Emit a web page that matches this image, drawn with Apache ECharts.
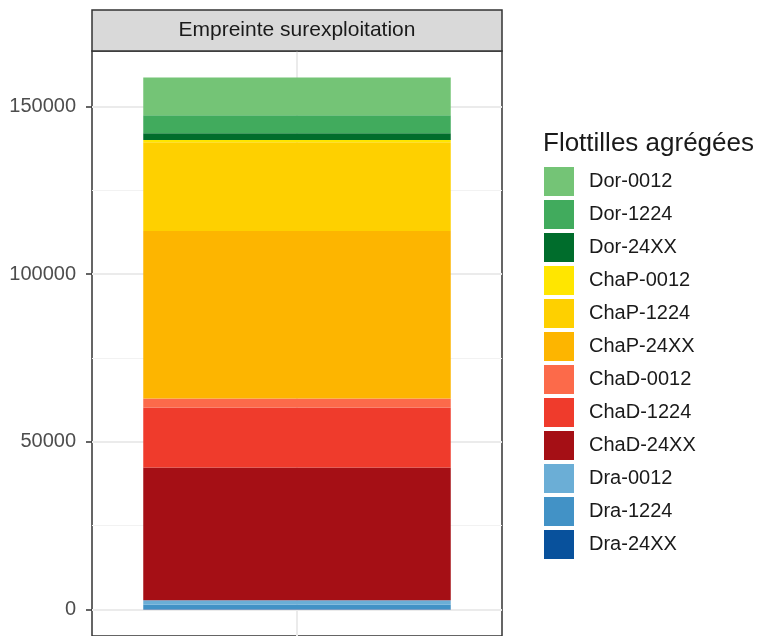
<!DOCTYPE html>
<html>
<head>
<meta charset="utf-8">
<script src="https://cdn.jsdelivr.net/npm/echarts@6/dist/echarts.min.js"></script>
<style>
html,body{margin:0;padding:0;background:#fff;}
#chart{width:762px;height:636px;}
</style>
</head>
<body>
<div id="chart"></div>
<script>
const panelTitle = 'Empreinte surexploitation';
const legendTitle = 'Flottilles agrégées';
const categories = ['Empreinte surexploitation'];
const fleets = ['Dor-0012','Dor-1224','Dor-24XX','ChaP-0012','ChaP-1224','ChaP-24XX','ChaD-0012','ChaD-1224','ChaD-24XX','Dra-0012','Dra-1224','Dra-24XX'];
const values = [11200, 5400, 2000, 700, 26500, 49900, 2700, 17900, 39600, 1350, 1250, 150];
const colors = ['#74c476','#41ab5d','#006d2c','#ffe600','#fed000','#fdb500','#fc6a4a','#ef3b2c','#a50f15','#6baed6','#4292c6','#08519c'];
const yTicks = [0, 50000, 100000, 150000];
const yMinorTicks = [25000, 75000, 125000];

const FONT = "'Liberation Sans', Arial, sans-serif";
const total = values.reduce((a, b) => a + b, 0);
const pad = total * 0.05;

const chart = echarts.init(document.getElementById('chart'), null, {renderer: 'canvas'});

const gridLeft = 92, gridRight = 260, gridTop = 51;

const barSeries = [];
for (let i = fleets.length - 1; i >= 0; i--) {
  barSeries.push({
    name: fleets[i],
    type: 'bar',
    stack: 'total',
    barWidth: '75%',
    z: 10,
    data: [values[i]],
    itemStyle: {color: colors[i], borderWidth: 0},
    emphasis: {disabled: true}
  });
}

const gridLines = [];
yTicks.forEach(v => gridLines.push({yAxis: v, lineStyle: {color: '#ebebeb', width: 2, type: 'solid'}}));
yMinorTicks.forEach(v => gridLines.push({yAxis: v, lineStyle: {color: '#f2f2f2', width: 1, type: 'solid'}}));
gridLines.push({xAxis: categories[0], lineStyle: {color: '#ebebeb', width: 2, type: 'solid'}});

const option = {
  animation: false,
  backgroundColor: '#ffffff',
  textStyle: {fontFamily: FONT},
  grid: {
    left: gridLeft, right: gridRight, top: gridTop, bottom: -2,
    show: true, borderColor: '#333333', borderWidth: 1.5, backgroundColor: '#ffffff',
    containLabel: false
  },
  xAxis: {
    type: 'category',
    data: categories,
    axisLine: {show: false},
    axisTick: {show: false},
    axisLabel: {show: false},
    splitLine: {show: false}
  },
  yAxis: {
    type: 'value',
    min: -pad,
    max: total + pad,
    splitNumber: 4,
    axisLine: {show: false},
    axisTick: {show: true, length: 6, lineStyle: {color: '#333333', width: 1.5}, customValues: yTicks},
    axisLabel: {
      show: true, margin: 16, fontSize: 20, color: '#4d4d4d', fontFamily: FONT,
      customValues: yTicks,
      formatter: v => String(v)
    },
    splitLine: {show: false},
    minorSplitLine: {show: false}
  },
  legend: {
    orient: 'vertical',
    left: 539,
    top: 162,
    icon: 'rect',
    itemWidth: 30,
    itemHeight: 29,
    itemGap: 4,
    selectedMode: false,
    data: fleets,
    textStyle: {fontSize: 20, color: '#1a1a1a', fontFamily: FONT, padding: [0, 0, 0, 10]}
  },
  graphic: [
    {
      type: 'rect',
      shape: {x: gridLeft, y: 10, width: 762 - gridLeft - gridRight, height: gridTop - 10},
      style: {fill: '#d9d9d9', stroke: '#333333', lineWidth: 1.5},
      z: 100
    },
    {
      type: 'text',
      x: gridLeft + (762 - gridLeft - gridRight) / 2,
      y: 30,
      style: {text: panelTitle, font: '21px ' + FONT, fill: '#1a1a1a', align: 'center', verticalAlign: 'middle'},
      z: 101
    },
    {
      type: 'text',
      x: 543,
      y: 144,
      style: {text: legendTitle, font: '26px ' + FONT, fill: '#1a1a1a', align: 'left', verticalAlign: 'middle'},
      z: 101
    }
  ],
  series: [
    {
      type: 'line',
      data: [],
      z: 1,
      silent: true,
      markLine: {
        silent: true,
        z: 1,
        symbol: 'none',
        label: {show: false},
        animation: false,
        data: gridLines
      }
    }
  ].concat(barSeries)
};
chart.setOption(option);
</script>
</body>
</html>
